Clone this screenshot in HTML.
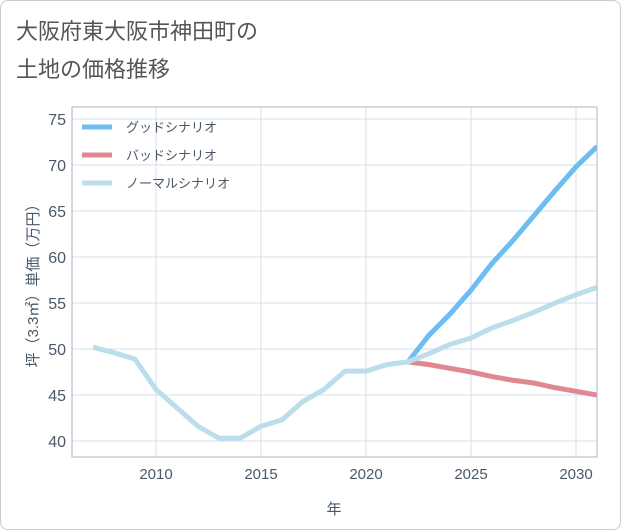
<!DOCTYPE html>
<html><head><meta charset="utf-8"><style>
body{margin:0;background:#fff;font-family:"Liberation Sans","Noto Sans CJK JP",sans-serif}
#wrap{position:relative;width:619px;height:528px;border:1px solid #ccc;border-radius:8px;overflow:hidden;background:#fff}
</style></head><body>
<div id="wrap">
<svg id="chart" width="621" height="530" style="position:absolute;left:-1px;top:-1px">
<text x="16" y="39" font-size="22" fill="#555" font-family="Liberation Sans, Noto Sans CJK JP, sans-serif">大阪府東大阪市神田町の</text>
<text x="16" y="77" font-size="22" fill="#555" font-family="Liberation Sans, Noto Sans CJK JP, sans-serif">土地の価格推移</text>
<g id="grid"></g><g id="lines"></g><g id="axes"></g><g id="legend"></g>
<text x="334" y="514" font-size="15" fill="#4a5868" text-anchor="middle" font-family="Liberation Sans, Noto Sans CJK JP, sans-serif">年</text>
<text transform="translate(38,282) rotate(-90)" font-size="15" fill="#4a5868" text-anchor="middle" font-family="Liberation Sans, Noto Sans CJK JP, sans-serif">坪（3.3㎡）単価（万円）</text>
</svg>
</div>
<script>
const years=[2007,2008,2009,2010,2011,2012,2013,2014,2015,2016,2017,2018,2019,2020,2021,2022,2023,2024,2025,2026,2027,2028,2029,2030,2031];
const normalVals=[50.2,49.6,48.9,45.6,43.6,41.6,40.3,40.3,41.6,42.3,44.3,45.6,47.6,47.6,48.3,48.6,49.5,50.5,51.2,52.3,53.1,54.0,55.0,55.9,56.7];
const futureYears=[2022,2023,2024,2025,2026,2027,2028,2029,2030,2031];
const goodVals=[48.6,51.5,53.8,56.4,59.3,61.8,64.5,67.2,69.8,72.0];
const badVals=[48.6,48.3,47.9,47.5,47.0,46.6,46.3,45.8,45.4,45.0];
const xTicks=[2010,2015,2020,2025,2030];
const yTicks=[40,45,50,55,60,65,70,75];
const legendLabels=["グッドシナリオ","バッドシナリオ","ノーマルシナリオ"];
const NS="http://www.w3.org/2000/svg";
const L=72,R=597,T=107,B=457;
const xs=y=>156+(y-2010)*21;
const ys=v=>441-(v-40)*9.2;
function mk(tag,attrs,parent){const e=document.createElementNS(NS,tag);for(const k in attrs)e.setAttribute(k,attrs[k]);parent.appendChild(e);return e;}
const grid=document.getElementById('grid'),axes=document.getElementById('axes'),lines=document.getElementById('lines'),legend=document.getElementById('legend');
for(const t of xTicks){
 const l=mk('line',{x1:xs(t),x2:xs(t),y1:T,y2:B,stroke:'#d3dfea','stroke-width':1},grid);
 
 
 const tx=mk('text',{x:xs(t),y:479,'font-size':15,fill:'#4a5868','text-anchor':'middle'},axes);tx.textContent=t;
 
 
}
for(const t of yTicks){
 const l=mk('line',{x1:L,x2:R,y1:ys(t),y2:ys(t),stroke:'#d3dfea','stroke-width':1},grid);
 
 
 const tx=mk('text',{x:66,y:ys(t)+6,'font-size':16,fill:'#4a5868','text-anchor':'end'},axes);tx.textContent=t;
 
 
}
const frame=mk('rect',{x:L,y:T,width:R-L,height:B-T,fill:'none',stroke:'#a9b4c0','stroke-width':1},axes);


function path(xsArr,vals,color,name){
 const d=vals.map((v,i)=>(i?'L':'M')+xs(xsArr[i])+','+ys(v)).join(' ');
 const p=mk('path',{d:d,fill:'none',stroke:color,'stroke-width':5,'stroke-linejoin':'round'},lines);
 
 
}
const cp=mk('clipPath',{id:'clip'},document.getElementById('chart'));mk('rect',{x:L,y:T,width:R-L,height:B-T},cp);
lines.setAttribute('clip-path','url(#clip)');
path(futureYears,goodVals,'#6bbdf2','good-scenario-line');
path(futureYears,badVals,'#e08890','bad-scenario-line');
path(years,normalVals,'#bcdeeb','normal-scenario-line');
const lc=['#6bbdf2','#e08890','#bcdeeb'];
legendLabels.forEach((s,i)=>{
 const y=127+i*28;
 const l=mk('line',{x1:82,x2:112,y1:y,y2:y,stroke:lc[i],'stroke-width':5},legend);
 
 
 const t=mk('text',{x:126,y:y+5,'font-size':13,fill:'#4a5868'},legend);t.textContent=s;
 
 
});
</script>
</body></html>
